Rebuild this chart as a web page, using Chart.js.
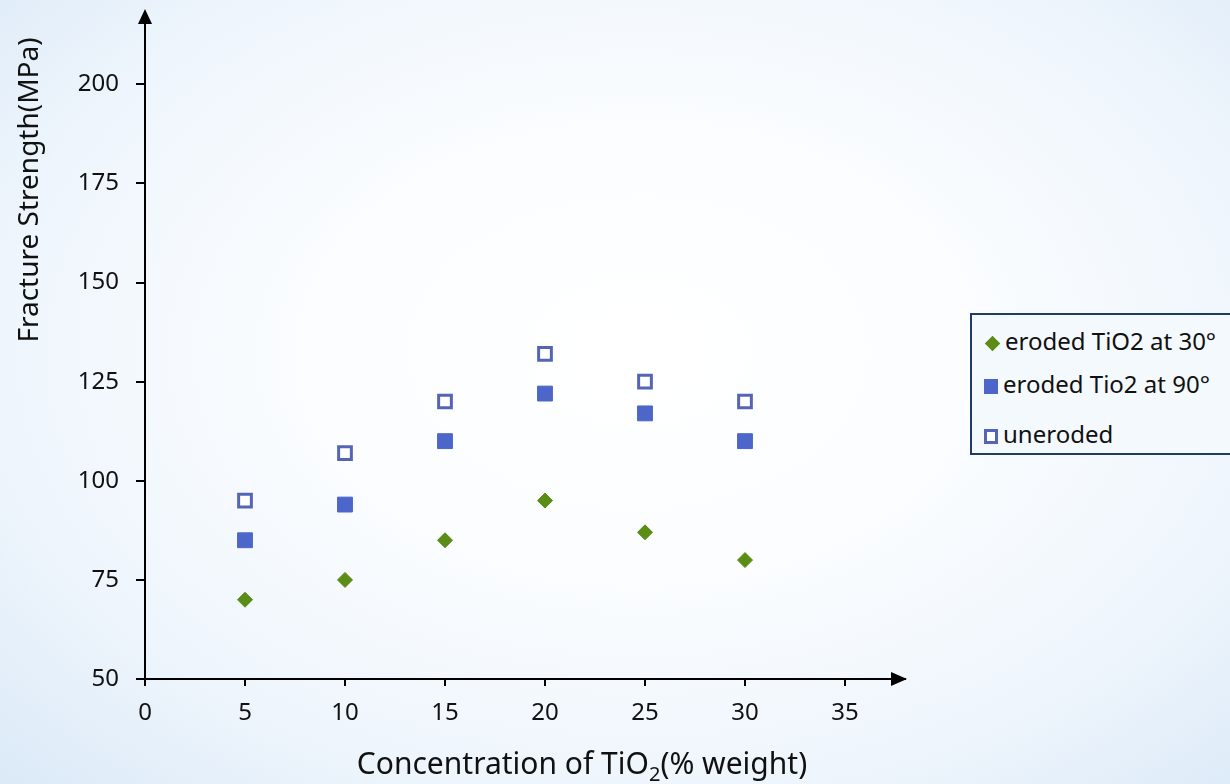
<!DOCTYPE html>
<html>
<head>
<meta charset="utf-8">
<script src="https://cdn.jsdelivr.net/npm/chart.js@4.4.1/dist/chart.umd.min.js"></script>
<style>
    html, body {
        margin: 0;
        padding: 0;
        width: 1230px;
        height: 784px;
        overflow: hidden;
    }
    body {
        position: relative;
        background: radial-gradient(ellipse 75% 80% at 52% 45%, #ffffff 0%, #fbfdff 35%, #eef5fc 70%, #d9e8f7 100%);
        font-family: 'Noto Sans', sans-serif;
    }
    #chartCanvas {
        position: absolute;
        left: 0;
        top: 0;
    }
    #legend {
        position: absolute;
        left: 970px;
        top: 313px;
        width: 300px;
        height: 138px;
        border: 2px solid #1f3c66;
        background: #f4f9fe;
        font-size: 24px;
        color: #111;
    }
    .item {
        position: absolute;
        left: 12px;
        white-space: nowrap;
        line-height: 28px;
    }
    .mark {
        display: inline-block;
        vertical-align: middle;
        margin-right: 5px;
        box-sizing: border-box;
    }
</style>
</head>
<body>
<canvas id="chartCanvas" width="1230" height="784"></canvas>
<div id="legend"></div>
<script>
const concentrations = [5, 10, 15, 20, 25, 30];
const eroded30 = [70, 75, 85, 95, 87, 80];
const eroded90 = [85, 94, 110, 122, 117, 110];
const uneroded = [95, 107, 120, 132, 125, 120];
const seriesNames = ['eroded TiO2 at 30°', 'eroded Tio2 at 90°', 'uneroded'];
const xTicks = [0, 5, 10, 15, 20, 25, 30, 35];
const yTicks = [50, 75, 100, 125, 150, 175, 200];

function toPoints(values) {
    return concentrations.map((c, i) => ({ x: c, y: values[i] }));
}

const axisArrows = {
    id: 'axisArrows',
    afterDraw(chart) {
        const ctx = chart.ctx;
        const a = chart.chartArea;
        ctx.save();
        ctx.fillStyle = '#000';
        // arrow at top of y axis
        ctx.beginPath();
        ctx.moveTo(a.left, a.top - 4);
        ctx.lineTo(a.left - 7, a.top + 11);
        ctx.lineTo(a.left + 7, a.top + 11);
        ctx.closePath();
        ctx.fill();
        // arrow at end of x axis
        ctx.beginPath();
        ctx.moveTo(a.right + 2, a.bottom);
        ctx.lineTo(a.right - 14, a.bottom - 7);
        ctx.lineTo(a.right - 14, a.bottom + 7);
        ctx.closePath();
        ctx.fill();

        // axis titles (x title has a real subscript 2)
        ctx.fillStyle = '#111';
        ctx.textBaseline = 'alphabetic';
        ctx.textAlign = 'left';
        const big = '30px "Noto Sans"';
        const small = '20px "Noto Sans"';
        const parts = [['Concentration of TiO', big, 0], ['2', small, 7], ['(% weight)', big, 0]];
        let w = 0;
        parts.forEach((p) => { ctx.font = p[1]; w += ctx.measureText(p[0]).width; });
        let x = 582 - w / 2;
        parts.forEach((p) => {
            ctx.font = p[1];
            ctx.fillText(p[0], x, 774 + p[2]);
            x += ctx.measureText(p[0]).width;
        });
        ctx.font = '28px "Noto Sans"';
        ctx.textAlign = 'center';
        ctx.textBaseline = 'middle';
        ctx.translate(30, 190);
        ctx.rotate(-Math.PI / 2);
        ctx.fillText('Fracture Strength(MPa)', 0, 0);
        ctx.restore();
    },
};

const datasets = [
    {
        label: seriesNames[0],
        data: toPoints(eroded30),
        pointStyle: 'rectRot',
        pointRadius: 7.5,
        backgroundColor: '#5a8c16',
        borderColor: '#5a8c16',
        borderWidth: 1,
    },
    {
        label: seriesNames[1],
        data: toPoints(eroded90),
        pointStyle: 'rect',
        pointRadius: 10.5,
        backgroundColor: '#4d66c9',
        borderColor: '#4d66c9',
        borderWidth: 1,
    },
    {
        label: seriesNames[2],
        data: toPoints(uneroded),
        pointStyle: 'rect',
        pointRadius: 9,
        backgroundColor: '#ffffff',
        borderColor: '#5565b5',
        borderWidth: 3,
    },
];

const cha = document.getElementById('chartCanvas').getContext('2d');
new Chart(cha, {
    type: 'scatter',
    data: { datasets: datasets },
    options: {
        responsive: false,
        animation: false,
        layout: {
            padding: { top: 13, right: 325, bottom: 0, left: 0 },
        },
        plugins: {
            legend: { display: false },
            tooltip: { enabled: false },
        },
        scales: {
            x: {
                min: 0,
                max: 38,
                afterBuildTicks: (s) => { s.ticks = xTicks.map((v) => ({ value: v })); },
                afterFit: (s) => { s.height = 105; s.paddingLeft = 0; s.paddingRight = 0; },
                border: { color: '#000', width: 2 },
                grid: {
                    drawOnChartArea: false,
                    drawTicks: true,
                    tickLength: 7,
                    color: '#000',
                    lineWidth: 2,
                },
                ticks: {
                    color: '#111',
                    padding: 13,
                    font: { size: 24, family: 'Noto Sans' },
                },
            },
            y: {
                min: 50,
                max: 218,
                afterBuildTicks: (s) => { s.ticks = yTicks.map((v) => ({ value: v })); },
                afterFit: (s) => { s.width = 145; s.paddingTop = 0; s.paddingBottom = 0; },
                border: { color: '#000', width: 2 },
                grid: {
                    drawOnChartArea: false,
                    drawTicks: true,
                    tickLength: 9,
                    color: '#000',
                    lineWidth: 2,
                },
                ticks: {
                    color: '#111',
                    padding: 17,
                    font: { size: 24, family: 'Noto Sans' },
                },
            },
        },
    },
    plugins: [axisArrows],
});

// legend built from the datasets
const legend = document.getElementById('legend');
const rowTops = [12, 55, 105];
datasets.forEach((ds, i) => {
    const item = document.createElement('div');
    item.className = 'item';
    item.style.top = rowTops[i] + 'px';
    const mark = document.createElement('span');
    mark.className = 'mark';
    if (ds.pointStyle === 'rectRot') {
        mark.style.width = '11px';
        mark.style.height = '11px';
        mark.style.margin = '0 7px 0 3px';
        mark.style.transform = 'rotate(45deg)';
        mark.style.background = ds.backgroundColor;
    } else {
        mark.style.width = '14px';
        mark.style.height = '15px';
        mark.style.background = ds.backgroundColor;
        mark.style.border = ds.borderWidth > 1 ? '3px solid ' + ds.borderColor : 'none';
    }
    item.appendChild(mark);
    item.appendChild(document.createTextNode(ds.label));
    legend.appendChild(item);
});
</script>
</body>
</html>
